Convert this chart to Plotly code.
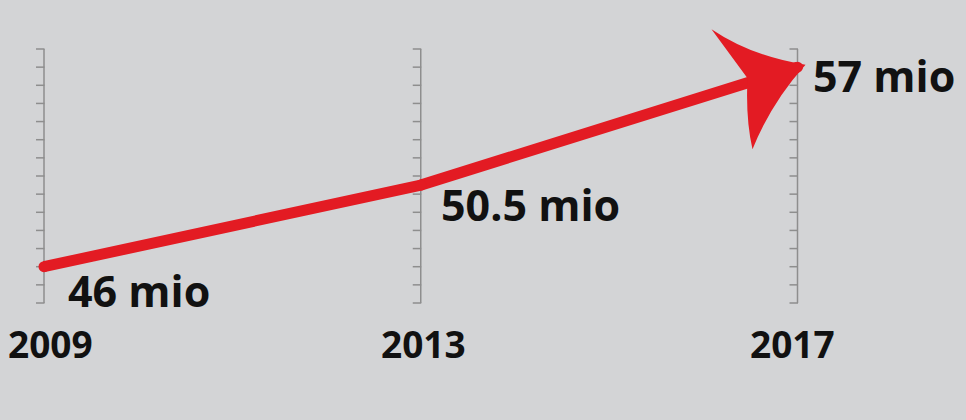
import plotly.graph_objects as go

# ---- data ----
years = [2009, 2013, 2017]
values = [46.0, 50.5, 57.0]
value_labels = ["46 mio", "50.5 mio", "57 mio"]
year_labels = ["2009", "2013", "2017"]
ruler_min, ruler_max = 44, 58

# ---- style ----
BG = "#d3d4d6"
RED = "#e31b23"
GRAY = "#8e8e8e"
FONT = "Open Sans"

W, H = 966, 420
px_per_year = (797.5 - 44) / 8
px_per_unit = (303 - 49) / (ruler_max - ruler_min)
x_range = [years[0] - 44 / px_per_year, years[-1] + (W - 797.5) / px_per_year]
y_range = [ruler_min - (H - 303) / px_per_unit, ruler_max + 49 / px_per_unit]

fig = go.Figure()

fig.add_trace(go.Scatter(
    x=years, y=values, mode="lines+markers",
    line=dict(color=RED, width=11),
    marker=dict(color=RED, size=11, line=dict(width=0)),
    hoverinfo="skip", showlegend=False, cliponaxis=False,
))

shapes = []
for yr in years:
    shapes.append(dict(type="line", xref="x", yref="y", x0=yr, x1=yr,
                       y0=ruler_min, y1=ruler_max, layer="below",
                       line=dict(color=GRAY, width=1.5)))
    for v in range(ruler_min, ruler_max + 1):
        shapes.append(dict(type="line", xref="x", yref="y", xsizemode="pixel",
                           xanchor=yr, x0=-8, x1=0.5, y0=v, y1=v, layer="below",
                           line=dict(color=GRAY, width=1.5)))

# arrowhead anchored at last data point (pixel offsets, y up)
head = ("M 8,2.5 Q -46,11 -86,38 L -50,-11 "
        "Q -52,-52 -45,-82 Q -26,-35 8,2.5 Z")
shapes.append(dict(type="path", xref="x", yref="y", xsizemode="pixel", ysizemode="pixel",
                   xanchor=years[-1], yanchor=values[-1], path=head,
                   fillcolor=RED, line=dict(width=0), layer="above"))

annotations = []
lab_shift = [(22, -24), (18, -19), (13, -8)]
for yr, v, t, (dx, dy) in zip(years, values, value_labels, lab_shift):
    annotations.append(dict(x=yr, y=v, xref="x", yref="y", text=t, showarrow=False,
                            xanchor="left", yanchor="middle", xshift=dx, yshift=dy,
                            font=dict(family=FONT, size=43, color="#111111", weight=700)))
year_shift = [6, 3, -5]
for yr, t, dx in zip(years, year_labels, year_shift):
    annotations.append(dict(x=yr, y=1 - 343 / H, xref="x", yref="paper", text=t,
                            showarrow=False, xanchor="center", yanchor="middle", xshift=dx,
                            font=dict(family=FONT, size=37, color="#111111", weight=700)))

fig.update_layout(
    width=W, height=H, margin=dict(l=0, r=0, t=0, b=0),
    paper_bgcolor=BG, plot_bgcolor=BG,
    xaxis=dict(range=x_range, visible=False, fixedrange=True),
    yaxis=dict(range=y_range, visible=False, fixedrange=True),
    shapes=shapes, annotations=annotations,
)

fig.write_html("out.html", config={"displayModeBar": False},
               post_script="document.body.style.margin='0';document.body.style.background='%s';" % BG)
